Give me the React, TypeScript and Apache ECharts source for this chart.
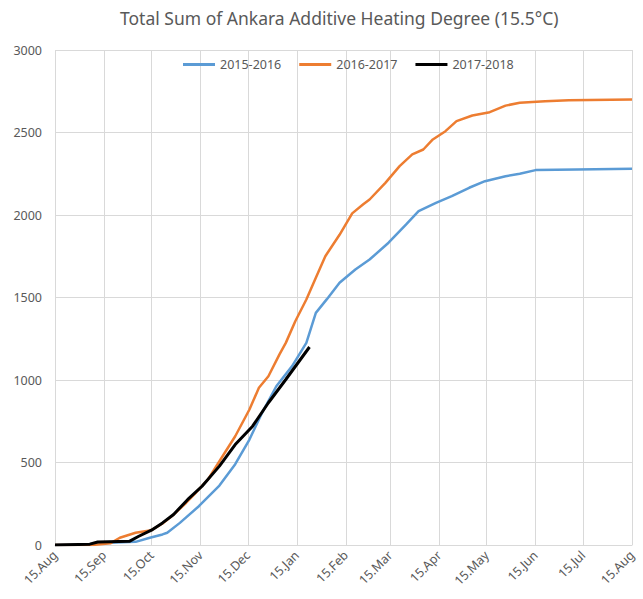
import React, { useEffect, useRef } from "react";
import * as echarts from "echarts";

const TITLE = "Total Sum of Ankara Additive Heating Degree (15.5°C)";
const MONTHS = ["Jan", "Feb", "Mar", "Apr", "May", "Jun", "Jul", "Aug", "Sep", "Oct", "Nov", "Dec"];
const SERIES_NAMES = ["2015-2016", "2016-2017", "2017-2018"];
const COLORS = ["#5B9BD5", "#ED7D31", "#000000"];

// day offsets from 15 Aug, cumulative heating degree values
const days1516 = [0, 20, 30, 51, 60, 68, 71, 79, 91, 104, 114, 123, 131, 140, 150, 159, 165, 172, 180, 190, 199, 211, 222, 230, 241, 251, 262, 272, 285, 294, 304, 330, 365];
const vals1516 = [0, 3, 12, 19, 44, 64, 74, 134, 235, 360, 490, 639, 801, 962, 1084, 1225, 1407, 1490, 1589, 1670, 1730, 1832, 1942, 2023, 2074, 2114, 2165, 2205, 2235, 2250, 2272, 2276, 2280];

const days1617 = [0, 24, 35, 41, 51, 61, 68, 74, 83, 89, 97, 106, 114, 123, 129, 135, 142, 146, 152, 159, 165, 171, 180, 188, 195, 199, 209, 218, 226, 233, 239, 247, 254, 264, 275, 285, 294, 310, 325, 365];
const vals1617 = [0, 0, 10, 44, 74, 90, 130, 175, 256, 316, 400, 538, 659, 821, 953, 1023, 1155, 1225, 1356, 1488, 1620, 1750, 1880, 2010, 2065, 2094, 2195, 2296, 2367, 2397, 2458, 2508, 2569, 2603, 2623, 2663, 2680, 2690, 2696, 2700];

const days1718 = [0, 22, 27, 47, 53, 61, 68, 75, 84, 93, 104, 114, 125, 135, 146, 161];
const vals1718 = [0, 5, 18, 22, 53, 90, 134, 185, 276, 356, 478, 609, 720, 862, 1003, 1200];

const Y_MIN = 0;
const Y_MAX = 3000;
const Y_STEP = 500;
const N_DAYS = 365;

function buildCategories(): string[] {
  const out: string[] = [];
  const start = new Date(2017, 7, 15);
  for (let i = 0; i <= N_DAYS; i++) {
    const d = new Date(start.getFullYear(), start.getMonth(), start.getDate() + i);
    out.push(`${d.getDate()}.${MONTHS[d.getMonth()]}`);
  }
  return out;
}

function pairs(days: number[], vals: number[]) {
  return days.map((d, i) => [d, vals[i]]);
}

export default function App() {
  const ref = useRef<HTMLDivElement>(null);
  useEffect(() => {
    document.body.style.margin = "0";
    if (!ref.current) return;
    const chart = echarts.init(ref.current, null, { renderer: "svg" });
    const cats = buildCategories();
    const is15 = (_i: number, v: string) => v.startsWith("15.");
    const font = "'Noto Sans', sans-serif";
    const dataSets = [pairs(days1516, vals1516), pairs(days1617, vals1617), pairs(days1718, vals1718)];
    chart.setOption({
      animation: false,
      backgroundColor: "#ffffff",
      title: {
        text: TITLE,
        left: 115,
        top: 4,
        textStyle: { fontFamily: font, fontSize: 17.5, fontWeight: "normal", color: "#595959" },
      },
      legend: {
        left: 178,
        top: 53,
        icon: "rect",
        itemWidth: 32,
        itemHeight: 3,
        itemGap: 18,
        textStyle: { fontFamily: font, fontSize: 12.5, color: "#595959" },
        data: SERIES_NAMES,
      },
      grid: { left: 55, right: 11, top: 50, bottom: 54, containLabel: false },
      xAxis: {
        type: "category",
        data: cats,
        boundaryGap: false,
        axisLine: { show: true, lineStyle: { color: "#D9D9D9", width: 1 } },
        axisTick: { show: false },
        axisLabel: {
          interval: is15,
          rotate: 45,
          margin: 8,
          fontFamily: font,
          fontSize: 12.5,
          color: "#595959",
        },
        splitLine: { show: true, interval: is15, lineStyle: { color: "#D9D9D9", width: 1 } },
      },
      yAxis: {
        type: "value",
        min: Y_MIN,
        max: Y_MAX,
        interval: Y_STEP,
        axisLine: { show: false },
        axisTick: { show: false },
        axisLabel: {
          fontFamily: font,
          fontSize: 12.5,
          color: "#595959",
          margin: 13,
          formatter: (v: number) => String(v),
        },
        splitLine: { show: true, lineStyle: { color: "#D9D9D9", width: 1 } },
      },
      series: SERIES_NAMES.map((name, i) => ({
        name,
        type: "line",
        data: dataSets[i],
        showSymbol: false,
        symbol: "none",
        smooth: false,
        color: COLORS[i],
        lineStyle: { color: COLORS[i], width: i === 2 ? 3 : 2.5 },
      })),
    });
    return () => chart.dispose();
  }, []);
  return <div ref={ref} style={{ width: 643, height: 599 }} />;
}
